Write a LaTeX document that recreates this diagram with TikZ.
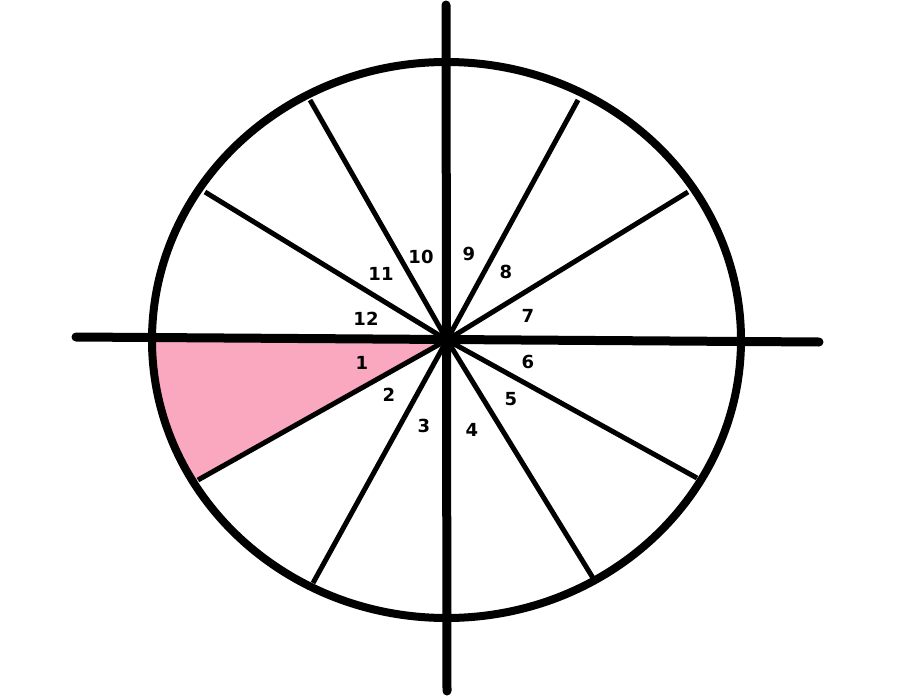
\documentclass[tikz,border=0pt]{standalone}
\usepackage{fontspec}
\newfontfamily\numfont{DejaVu Sans}
\begin{document}
\begin{tikzpicture}[x=1pt,y=-1pt,
  spoke/.style={line width=5pt},
  axis/.style={line width=9pt,line cap=round},
  rim/.style={line width=8pt},
  num/.style={font=\numfont\bfseries\fontsize{18}{18}\selectfont,inner sep=0pt}]
\useasboundingbox (0,0) rectangle (900,699);
\fill[white] (0,0) rectangle (900,699);
\coordinate (c) at (447,340);
\coordinate (p1) at (310,100);
\coordinate (p2) at (205,192);
\coordinate (p3) at (198,480);
\coordinate (p4) at (313,583);
\coordinate (p5) at (578,100);
\coordinate (p6) at (688,192);
\coordinate (p7) at (697,478);
\coordinate (p8) at (593,578);
\coordinate (hl) at (76,337);
\coordinate (hr) at (819,342);
\coordinate (vt) at (446,5);
\coordinate (vb) at (447,691);
\begin{scope}
  \clip (446.5,340) ellipse [x radius=294.5pt, y radius=278pt];
  \fill[fill={rgb,255:red,250;green,168;blue,192}] (c) -- (140,339) -- (140,512.6) -- cycle;
\end{scope}
\foreach \p in {p1,p2,p3,p4,p5,p6,p7,p8} \draw[spoke] (c) -- (\p);
\draw[rim] (446.5,340) ellipse [x radius=294.5pt, y radius=278pt];
\draw[axis] (hl) -- (hr);
\draw[axis] (vt) -- (vb);
\node[num] (l1) at (362,363) {1};
\node[num] (l2) at (389,395) {2};
\node[num] (l3) at (424,426) {3};
\node[num] (l4) at (472,430) {4};
\node[num] (l5) at (511,399) {5};
\node[num] (l6) at (528,362) {6};
\node[num] (l7) at (528,316) {7};
\node[num] (l8) at (506,272) {8};
\node[num] (l9) at (469,254) {9};
\node[num] (l10) at (421,257) {10};
\node[num] (l11) at (381,274) {11};
\node[num] (l12) at (366,319) {12};
\end{tikzpicture}
\end{document}
